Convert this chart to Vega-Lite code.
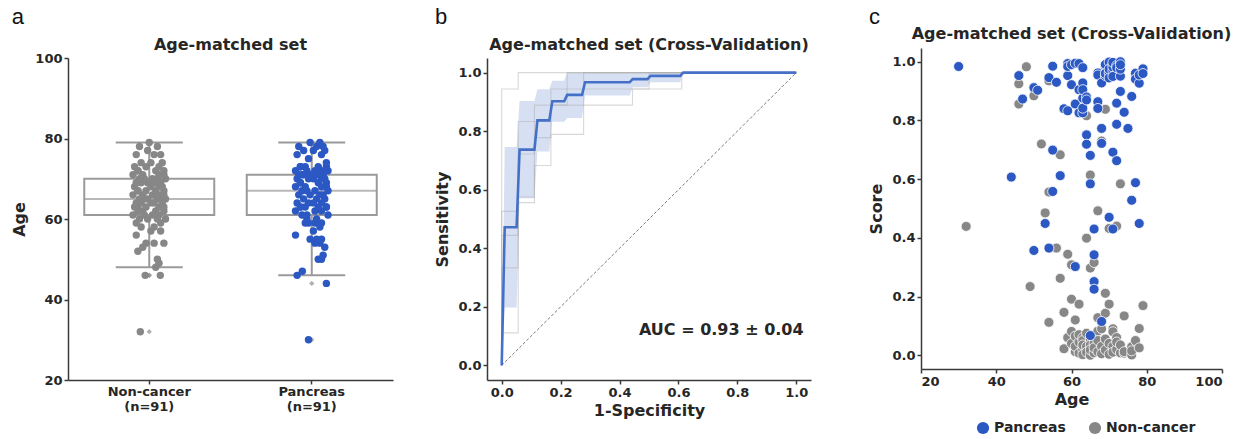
{
"$schema": "https://vega.github.io/schema/vega-lite/v6.json",
"padding": {"left": 11, "top": 6, "right": 5, "bottom": 3},
"config": {
  "view": {"stroke": null},
  "font": "DejaVu Sans",
  "axis": {"labelFont": "DejaVu Sans", "labelFontWeight": "bold", "labelFontSize": 13, "labelColor": "#262626", "titleFont": "DejaVu Sans", "titleFontWeight": "bold", "titleFontSize": 16, "titleColor": "#262626", "domainColor": "#3a3a3a", "domainWidth": 1.5, "tickColor": "#3a3a3a", "tickWidth": 1.5, "tickSize": 4, "labelPadding": 2, "grid": false, "titlePadding": 7},
  "axisX": {"titlePadding": 3},
  "title": {"font": "DejaVu Sans", "fontSize": 16, "fontWeight": "bold", "color": "#262626"},
  "legend": {"labelFont": "DejaVu Sans", "labelFontSize": 14, "labelFontWeight": "bold", "labelColor": "#262626"}
},
"datasets": {
  "pts": [
    {"g":"Non-cancer","age":32,"score":0.439,"j":-0.055},
    {"g":"Non-cancer","age":46,"score":0.925,"j":-0.025},
    {"g":"Non-cancer","age":46,"score":0.856,"j":0.068},
    {"g":"Non-cancer","age":48,"score":0.983,"j":0.04},
    {"g":"Non-cancer","age":49,"score":0.234,"j":0.06},
    {"g":"Non-cancer","age":50,"score":0.884,"j":0.05},
    {"g":"Non-cancer","age":52,"score":0.720,"j":-0.07},
    {"g":"Non-cancer","age":53,"score":0.485,"j":-0.04},
    {"g":"Non-cancer","age":54,"score":0.935,"j":0.09},
    {"g":"Non-cancer","age":54,"score":0.556,"j":-0.02},
    {"g":"Non-cancer","age":54,"score":0.112,"j":0.03},
    {"g":"Non-cancer","age":56,"score":0.365,"j":-0.08},
    {"g":"Non-cancer","age":57,"score":0.683,"j":0.01},
    {"g":"Non-cancer","age":57,"score":0.262,"j":0.07},
    {"g":"Non-cancer","age":58,"score":0.146,"j":-0.05},
    {"g":"Non-cancer","age":58,"score":0.022,"j":0.03},
    {"g":"Non-cancer","age":59,"score":0.344,"j":-0.08},
    {"g":"Non-cancer","age":59,"score":0.060,"j":0.07},
    {"g":"Non-cancer","age":60,"score":0.308,"j":-0.01},
    {"g":"Non-cancer","age":60,"score":0.191,"j":0.05},
    {"g":"Non-cancer","age":60,"score":0.081,"j":-0.06},
    {"g":"Non-cancer","age":60,"score":0.040,"j":0.1},
    {"g":"Non-cancer","age":61,"score":0.120,"j":-0.03},
    {"g":"Non-cancer","age":61,"score":0.012,"j":0.02},
    {"g":"Non-cancer","age":61,"score":0.065,"j":-0.1},
    {"g":"Non-cancer","age":61,"score":0.030,"j":0.06},
    {"g":"Non-cancer","age":62,"score":0.174,"j":-0.04},
    {"g":"Non-cancer","age":62,"score":0.007,"j":0.09},
    {"g":"Non-cancer","age":62,"score":0.045,"j":-0.07},
    {"g":"Non-cancer","age":62,"score":0.070,"j":0.04},
    {"g":"Non-cancer","age":63,"score":0.060,"j":-0.07},
    {"g":"Non-cancer","age":63,"score":0.020,"j":0.09},
    {"g":"Non-cancer","age":63,"score":0.002,"j":-0.02},
    {"g":"Non-cancer","age":63,"score":0.050,"j":0.06},
    {"g":"Non-cancer","age":63,"score":0.035,"j":-0.09},
    {"g":"Non-cancer","age":64,"score":0.816,"j":0.01},
    {"g":"Non-cancer","age":64,"score":0.399,"j":0.08},
    {"g":"Non-cancer","age":64,"score":0.075,"j":-0.05},
    {"g":"Non-cancer","age":64,"score":0.030,"j":0.03},
    {"g":"Non-cancer","age":64,"score":0.010,"j":-0.08},
    {"g":"Non-cancer","age":65,"score":0.614,"j":0.07},
    {"g":"Non-cancer","age":65,"score":0.297,"j":-0.01},
    {"g":"Non-cancer","age":65,"score":0.055,"j":0.05},
    {"g":"Non-cancer","age":65,"score":0.035,"j":-0.06},
    {"g":"Non-cancer","age":65,"score":0.000,"j":0.1},
    {"g":"Non-cancer","age":65,"score":0.018,"j":-0.03},
    {"g":"Non-cancer","age":66,"score":0.316,"j":0.02},
    {"g":"Non-cancer","age":66,"score":0.062,"j":-0.1},
    {"g":"Non-cancer","age":66,"score":0.040,"j":0.06},
    {"g":"Non-cancer","age":66,"score":0.008,"j":-0.04},
    {"g":"Non-cancer","age":66,"score":0.025,"j":0.09},
    {"g":"Non-cancer","age":67,"score":0.492,"j":-0.07},
    {"g":"Non-cancer","age":67,"score":0.128,"j":0.04},
    {"g":"Non-cancer","age":67,"score":0.082,"j":-0.07},
    {"g":"Non-cancer","age":67,"score":0.050,"j":0.09},
    {"g":"Non-cancer","age":67,"score":0.012,"j":-0.02},
    {"g":"Non-cancer","age":68,"score":0.730,"j":0.06},
    {"g":"Non-cancer","age":68,"score":0.090,"j":-0.09},
    {"g":"Non-cancer","age":68,"score":0.030,"j":0.01},
    {"g":"Non-cancer","age":68,"score":0.005,"j":0.08},
    {"g":"Non-cancer","age":69,"score":0.838,"j":-0.05},
    {"g":"Non-cancer","age":69,"score":0.211,"j":0.03},
    {"g":"Non-cancer","age":69,"score":0.143,"j":-0.08},
    {"g":"Non-cancer","age":69,"score":0.055,"j":0.07},
    {"g":"Non-cancer","age":69,"score":0.018,"j":-0.01},
    {"g":"Non-cancer","age":70,"score":0.432,"j":0.05},
    {"g":"Non-cancer","age":70,"score":0.174,"j":-0.06},
    {"g":"Non-cancer","age":70,"score":0.950,"j":0.1},
    {"g":"Non-cancer","age":70,"score":0.040,"j":-0.03},
    {"g":"Non-cancer","age":70,"score":0.003,"j":0.02},
    {"g":"Non-cancer","age":71,"score":0.090,"j":-0.1},
    {"g":"Non-cancer","age":71,"score":0.080,"j":0.06},
    {"g":"Non-cancer","age":71,"score":0.030,"j":-0.04},
    {"g":"Non-cancer","age":71,"score":0.010,"j":0.09},
    {"g":"Non-cancer","age":72,"score":0.440,"j":-0.07},
    {"g":"Non-cancer","age":72,"score":0.060,"j":0.04},
    {"g":"Non-cancer","age":72,"score":0.020,"j":-0.07},
    {"g":"Non-cancer","age":72,"score":0.045,"j":0.09},
    {"g":"Non-cancer","age":73,"score":0.584,"j":-0.02},
    {"g":"Non-cancer","age":73,"score":0.008,"j":0.06},
    {"g":"Non-cancer","age":73,"score":0.035,"j":-0.09},
    {"g":"Non-cancer","age":74,"score":0.134,"j":0.01},
    {"g":"Non-cancer","age":74,"score":0.007,"j":0.08},
    {"g":"Non-cancer","age":74,"score":0.012,"j":-0.05},
    {"g":"Non-cancer","age":76,"score":0.029,"j":0.03},
    {"g":"Non-cancer","age":76,"score":0.001,"j":-0.08},
    {"g":"Non-cancer","age":76,"score":0.015,"j":0.07},
    {"g":"Non-cancer","age":77,"score":0.050,"j":-0.01},
    {"g":"Non-cancer","age":78,"score":0.091,"j":0.05},
    {"g":"Non-cancer","age":78,"score":0.025,"j":-0.06},
    {"g":"Non-cancer","age":79,"score":0.169,"j":0.0},
    {"g":"Pancreas","age":30,"score":0.984,"j":-0.02},
    {"g":"Pancreas","age":44,"score":0.607,"j":0.09},
    {"g":"Pancreas","age":46,"score":0.953,"j":-0.09},
    {"g":"Pancreas","age":47,"score":0.873,"j":-0.058},
    {"g":"Pancreas","age":50,"score":0.912,"j":0.04},
    {"g":"Pancreas","age":50,"score":0.357,"j":0.06},
    {"g":"Pancreas","age":51,"score":0.903,"j":0.07},
    {"g":"Pancreas","age":53,"score":0.449,"j":0.08},
    {"g":"Pancreas","age":54,"score":0.946,"j":0.02},
    {"g":"Pancreas","age":54,"score":0.365,"j":0.05},
    {"g":"Pancreas","age":55,"score":0.985,"j":-0.01},
    {"g":"Pancreas","age":55,"score":0.699,"j":0.03},
    {"g":"Pancreas","age":55,"score":0.558,"j":0.06},
    {"g":"Pancreas","age":56,"score":0.930,"j":-0.1},
    {"g":"Pancreas","age":57,"score":0.612,"j":0.01},
    {"g":"Pancreas","age":58,"score":0.840,"j":0.05},
    {"g":"Pancreas","age":59,"score":0.833,"j":-0.04},
    {"g":"Pancreas","age":59,"score":0.994,"j":0.02},
    {"g":"Pancreas","age":59,"score":0.953,"j":0.06},
    {"g":"Pancreas","age":59,"score":0.984,"j":-0.02},
    {"g":"Pancreas","age":60,"score":0.922,"j":-0.03},
    {"g":"Pancreas","age":60,"score":0.990,"j":0.03},
    {"g":"Pancreas","age":61,"score":0.856,"j":-0.06},
    {"g":"Pancreas","age":61,"score":0.995,"j":0.1},
    {"g":"Pancreas","age":61,"score":0.302,"j":-0.03},
    {"g":"Pancreas","age":62,"score":0.994,"j":0.02},
    {"g":"Pancreas","age":62,"score":0.826,"j":-0.1},
    {"g":"Pancreas","age":62,"score":0.905,"j":0.06},
    {"g":"Pancreas","age":63,"score":0.980,"j":-0.04},
    {"g":"Pancreas","age":63,"score":0.826,"j":0.09},
    {"g":"Pancreas","age":63,"score":0.928,"j":-0.07},
    {"g":"Pancreas","age":63,"score":0.876,"j":0.04},
    {"g":"Pancreas","age":63,"score":0.905,"j":-0.07},
    {"g":"Pancreas","age":63,"score":0.842,"j":0.09},
    {"g":"Pancreas","age":64,"score":0.880,"j":-0.02},
    {"g":"Pancreas","age":64,"score":0.751,"j":0.06},
    {"g":"Pancreas","age":64,"score":0.719,"j":-0.09},
    {"g":"Pancreas","age":64,"score":0.870,"j":0.01},
    {"g":"Pancreas","age":65,"score":0.681,"j":0.08},
    {"g":"Pancreas","age":65,"score":0.584,"j":-0.05},
    {"g":"Pancreas","age":65,"score":0.067,"j":0.03},
    {"g":"Pancreas","age":66,"score":0.430,"j":-0.08},
    {"g":"Pancreas","age":66,"score":0.342,"j":0.07},
    {"g":"Pancreas","age":66,"score":0.251,"j":-0.01},
    {"g":"Pancreas","age":66,"score":0.225,"j":0.05},
    {"g":"Pancreas","age":67,"score":0.864,"j":-0.06},
    {"g":"Pancreas","age":67,"score":0.841,"j":0.1},
    {"g":"Pancreas","age":67,"score":0.962,"j":-0.03},
    {"g":"Pancreas","age":67,"score":0.955,"j":0.02},
    {"g":"Pancreas","age":68,"score":0.773,"j":-0.1},
    {"g":"Pancreas","age":68,"score":0.722,"j":0.06},
    {"g":"Pancreas","age":68,"score":0.115,"j":-0.04},
    {"g":"Pancreas","age":68,"score":0.928,"j":0.09},
    {"g":"Pancreas","age":69,"score":0.985,"j":-0.07},
    {"g":"Pancreas","age":69,"score":0.991,"j":0.04},
    {"g":"Pancreas","age":69,"score":0.953,"j":-0.07},
    {"g":"Pancreas","age":69,"score":0.960,"j":0.09},
    {"g":"Pancreas","age":70,"score":0.470,"j":-0.02},
    {"g":"Pancreas","age":70,"score":0.999,"j":0.06},
    {"g":"Pancreas","age":70,"score":0.962,"j":-0.09},
    {"g":"Pancreas","age":70,"score":0.945,"j":0.01},
    {"g":"Pancreas","age":70,"score":0.975,"j":0.08},
    {"g":"Pancreas","age":71,"score":0.692,"j":-0.05},
    {"g":"Pancreas","age":71,"score":0.430,"j":0.03},
    {"g":"Pancreas","age":71,"score":0.991,"j":-0.08},
    {"g":"Pancreas","age":71,"score":0.970,"j":0.07},
    {"g":"Pancreas","age":71,"score":0.982,"j":-0.01},
    {"g":"Pancreas","age":71,"score":0.950,"j":0.05},
    {"g":"Pancreas","age":71,"score":0.998,"j":-0.06},
    {"g":"Pancreas","age":72,"score":0.663,"j":0.1},
    {"g":"Pancreas","age":72,"score":0.787,"j":-0.03},
    {"g":"Pancreas","age":72,"score":0.859,"j":0.02},
    {"g":"Pancreas","age":72,"score":0.987,"j":-0.1},
    {"g":"Pancreas","age":72,"score":0.980,"j":0.06},
    {"g":"Pancreas","age":73,"score":0.899,"j":-0.04},
    {"g":"Pancreas","age":73,"score":1.000,"j":0.09},
    {"g":"Pancreas","age":73,"score":0.951,"j":-0.07},
    {"g":"Pancreas","age":73,"score":0.975,"j":0.04},
    {"g":"Pancreas","age":73,"score":0.990,"j":-0.07},
    {"g":"Pancreas","age":74,"score":0.828,"j":0.09},
    {"g":"Pancreas","age":75,"score":0.773,"j":-0.02},
    {"g":"Pancreas","age":76,"score":0.882,"j":0.06},
    {"g":"Pancreas","age":76,"score":0.528,"j":-0.09},
    {"g":"Pancreas","age":77,"score":0.961,"j":0.01},
    {"g":"Pancreas","age":77,"score":0.941,"j":0.08},
    {"g":"Pancreas","age":77,"score":0.588,"j":-0.05},
    {"g":"Pancreas","age":78,"score":0.927,"j":0.03},
    {"g":"Pancreas","age":78,"score":0.449,"j":-0.08},
    {"g":"Pancreas","age":78,"score":0.955,"j":0.07},
    {"g":"Pancreas","age":79,"score":0.976,"j":-0.01},
    {"g":"Pancreas","age":79,"score":0.960,"j":0.05}
  ],
  "roc": [
    {"fpr":0,"tpr":0,"lo":0,"hi":0},
    {"fpr":0.0101,"tpr":0.472,"lo":0.198,"hi":0.746},
    {"fpr":0.0505,"tpr":0.472,"lo":0.198,"hi":0.746},
    {"fpr":0.0606,"tpr":0.737,"lo":0.571,"hi":0.903},
    {"fpr":0.1111,"tpr":0.737,"lo":0.571,"hi":0.903},
    {"fpr":0.1212,"tpr":0.837,"lo":0.731,"hi":0.943},
    {"fpr":0.1616,"tpr":0.837,"lo":0.731,"hi":0.943},
    {"fpr":0.1717,"tpr":0.902,"lo":0.832,"hi":0.972},
    {"fpr":0.2121,"tpr":0.902,"lo":0.832,"hi":0.972},
    {"fpr":0.2222,"tpr":0.924,"lo":0.845,"hi":1},
    {"fpr":0.2727,"tpr":0.924,"lo":0.845,"hi":1},
    {"fpr":0.2828,"tpr":0.967,"lo":0.922,"hi":1},
    {"fpr":0.4343,"tpr":0.967,"lo":0.922,"hi":1},
    {"fpr":0.4444,"tpr":0.978,"lo":0.95,"hi":1},
    {"fpr":0.4949,"tpr":0.978,"lo":0.95,"hi":1},
    {"fpr":0.5051,"tpr":0.989,"lo":0.967,"hi":1},
    {"fpr":0.6061,"tpr":0.989,"lo":0.967,"hi":1},
    {"fpr":0.6162,"tpr":1,"lo":1,"hi":1},
    {"fpr":1,"tpr":1,"lo":1,"hi":1}
  ],
  "folds": [
    {"fold":1,"k":0,"fpr":0,"tpr":0},{"fold":1,"k":1,"fpr":0,"tpr":0.944},{"fold":1,"k":2,"fpr":0.056,"tpr":0.944},{"fold":1,"k":3,"fpr":0.056,"tpr":1},{"fold":1,"k":4,"fpr":1,"tpr":1},
    {"fold":2,"k":0,"fpr":0,"tpr":0},{"fold":2,"k":1,"fpr":0,"tpr":0.111},{"fold":2,"k":2,"fpr":0.056,"tpr":0.111},{"fold":2,"k":3,"fpr":0.056,"tpr":0.556},{"fold":2,"k":4,"fpr":0.111,"tpr":0.556},{"fold":2,"k":5,"fpr":0.111,"tpr":0.683},{"fold":2,"k":6,"fpr":0.167,"tpr":0.683},{"fold":2,"k":7,"fpr":0.167,"tpr":0.789},{"fold":2,"k":8,"fpr":0.278,"tpr":0.789},{"fold":2,"k":9,"fpr":0.278,"tpr":0.944},{"fold":2,"k":10,"fpr":0.611,"tpr":0.944},{"fold":2,"k":11,"fpr":0.611,"tpr":1},{"fold":2,"k":12,"fpr":1,"tpr":1},
    {"fold":3,"k":0,"fpr":0,"tpr":0},{"fold":3,"k":1,"fpr":0,"tpr":0.333},{"fold":3,"k":2,"fpr":0.056,"tpr":0.333},{"fold":3,"k":3,"fpr":0.056,"tpr":0.575},{"fold":3,"k":4,"fpr":0.111,"tpr":0.575},{"fold":3,"k":5,"fpr":0.111,"tpr":0.778},{"fold":3,"k":6,"fpr":0.167,"tpr":0.778},{"fold":3,"k":7,"fpr":0.167,"tpr":0.889},{"fold":3,"k":8,"fpr":0.444,"tpr":0.889},{"fold":3,"k":9,"fpr":0.444,"tpr":0.944},{"fold":3,"k":10,"fpr":0.5,"tpr":0.944},{"fold":3,"k":11,"fpr":0.5,"tpr":1},{"fold":3,"k":12,"fpr":1,"tpr":1},
    {"fold":4,"k":0,"fpr":0,"tpr":0},{"fold":4,"k":1,"fpr":0,"tpr":0.444},{"fold":4,"k":2,"fpr":0.056,"tpr":0.444},{"fold":4,"k":3,"fpr":0.056,"tpr":0.722},{"fold":4,"k":4,"fpr":0.111,"tpr":0.722},{"fold":4,"k":5,"fpr":0.111,"tpr":0.833},{"fold":4,"k":6,"fpr":0.167,"tpr":0.833},{"fold":4,"k":7,"fpr":0.167,"tpr":0.889},{"fold":4,"k":8,"fpr":0.222,"tpr":0.889},{"fold":4,"k":9,"fpr":0.222,"tpr":0.944},{"fold":4,"k":10,"fpr":0.278,"tpr":0.944},{"fold":4,"k":11,"fpr":0.278,"tpr":1},{"fold":4,"k":12,"fpr":1,"tpr":1},
    {"fold":5,"k":0,"fpr":0,"tpr":0},{"fold":5,"k":1,"fpr":0,"tpr":0.526},{"fold":5,"k":2,"fpr":0.056,"tpr":0.526},{"fold":5,"k":3,"fpr":0.056,"tpr":0.833},{"fold":5,"k":4,"fpr":0.111,"tpr":0.833},{"fold":5,"k":5,"fpr":0.111,"tpr":0.889},{"fold":5,"k":6,"fpr":0.167,"tpr":0.889},{"fold":5,"k":7,"fpr":0.167,"tpr":0.944},{"fold":5,"k":8,"fpr":0.222,"tpr":0.944},{"fold":5,"k":9,"fpr":0.222,"tpr":1},{"fold":5,"k":10,"fpr":1,"tpr":1}
  ]
},
"resolve": {"scale": {"color": "independent"}, "legend": {"color": "independent"}},
"align": "none",
"spacing": 57,
"hconcat": [
  {
    "spacing": 41,
    "align": "none",
    "resolve": {"scale": {"color": "independent"}, "legend": {"color": "independent"}},
    "hconcat": [
      {
        "title": {"text": "a", "anchor": "start", "frame": "bounds", "font": "Liberation Sans", "fontSize": 22, "fontWeight": "normal", "color": "#111111", "offset": -4},
        "spacing": 0,
        "vconcat": [
          {"width": 325, "height": 12, "data": {"values": []}, "mark": {"type": "point", "opacity": 0}},
          {
          "title": {"text": "Age-matched set", "offset": -1},
          "width": 325, "height": 322,
          "data": {"name": "pts"},
          "layer": [
            {
              "mark": {"type": "boxplot", "extent": 1.5, "size": 130,
                "box": {"fill": "white", "stroke": "#9a9a9a", "strokeWidth": 2},
                "median": {"color": "#9a9a9a", "thickness": 2},
                "rule": {"color": "#9a9a9a", "strokeWidth": 2},
                "ticks": {"color": "#9a9a9a", "size": 67, "thickness": 2},
                "outliers": {"shape": "diamond", "color": "#8e8e8e", "size": 28, "filled": true}},
              "encoding": {
                "x": {"field": "g", "type": "nominal", "sort": ["Non-cancer", "Pancreas"], "scale": {"paddingInner": 0, "paddingOuter": 0},
                  "axis": {"title": null, "labelAngle": 0, "labelExpr": "[datum.label, '(n=91)']", "labelLineHeight": 15, "labelPadding": 1}},
                "y": {"field": "age", "type": "quantitative", "scale": {"domain": [20, 100], "nice": false, "zero": false},
                  "axis": {"values": [20, 40, 60, 80, 100], "title": "Age"}}
              }
            },
            {
              "mark": {"type": "circle", "size": 55, "opacity": 1},
              "encoding": {
                "x": {"field": "g", "type": "nominal", "sort": ["Non-cancer", "Pancreas"]},
                "xOffset": {"field": "j", "type": "quantitative", "scale": {"domain": [-0.5, 0.5]}},
                "y": {"field": "age", "type": "quantitative"},
                "color": {"field": "g", "type": "nominal", "scale": {"domain": ["Pancreas", "Non-cancer"], "range": ["#2b58c3", "#878787"]}, "legend": null}
              }
            }
          ]
        }]
      },
      {
        "title": {"text": "b", "anchor": "start", "frame": "bounds", "font": "Liberation Sans", "fontSize": 22, "fontWeight": "normal", "color": "#111111", "offset": -4},
        "spacing": 0,
        "vconcat": [
          {"width": 324, "height": 12, "data": {"values": []}, "mark": {"type": "point", "opacity": 0}},
          {
          "title": {"text": "Age-matched set (Cross-Validation)", "offset": 5},
          "width": 324, "height": 322,
          "layer": [
            {
              "data": {"name": "roc"},
              "mark": {"type": "area", "color": "#4a72c6", "opacity": 0.22},
              "encoding": {
                "x": {"field": "fpr", "type": "quantitative", "scale": {"domain": [-0.05, 1.05], "nice": false, "zero": false},
                  "axis": {"values": [0, 0.2, 0.4, 0.6, 0.8, 1], "format": ".1f", "title": "1-Specificity"}},
                "y": {"field": "lo", "type": "quantitative", "scale": {"domain": [-0.05, 1.05], "nice": false, "zero": false},
                  "axis": {"values": [0, 0.2, 0.4, 0.6, 0.8, 1], "format": ".1f", "title": "Sensitivity"}},
                "y2": {"field": "hi"}
              }
            },
            {
              "data": {"name": "folds"},
              "mark": {"type": "line", "color": "#a8a8a8", "strokeWidth": 1.1, "opacity": 0.45},
              "encoding": {
                "x": {"field": "fpr", "type": "quantitative"},
                "y": {"field": "tpr", "type": "quantitative"},
                "detail": {"field": "fold", "type": "nominal"},
                "order": {"field": "k", "type": "quantitative"}
              }
            },
            {
              "data": {"values": [{}]},
              "mark": {"type": "rule", "color": "#777777", "strokeDash": [3, 2], "strokeWidth": 1},
              "encoding": {"x": {"datum": 0}, "y": {"datum": 0}, "x2": {"datum": 1}, "y2": {"datum": 1}}
            },
            {
              "data": {"name": "roc"},
              "mark": {"type": "line", "color": "#4470c8", "strokeWidth": 2.6},
              "encoding": {
                "x": {"field": "fpr", "type": "quantitative"},
                "y": {"field": "tpr", "type": "quantitative"}
              }
            },
            {
              "data": {"values": [{}]},
              "mark": {"type": "text", "text": "AUC = 0.93 ± 0.04", "align": "right", "baseline": "middle", "font": "DejaVu Sans", "fontSize": 16, "fontWeight": "bold", "color": "#262626"},
              "encoding": {"x": {"datum": 1.025}, "y": {"datum": 0.12}}
            }
          ]
        }]
      }
    ]
  },
  {
    "title": {"text": "c", "anchor": "start", "frame": "bounds", "font": "Liberation Sans", "fontSize": 22, "fontWeight": "normal", "color": "#111111", "offset": -4},
    "spacing": 0,
    "vconcat": [
      {"width": 301, "height": 1, "data": {"values": []}, "mark": {"type": "point", "opacity": 0}},
      {
      "title": {"text": "Age-matched set (Cross-Validation)", "offset": 6},
      "width": 301, "height": 321,
      "data": {"name": "pts"},
      "mark": {"type": "circle", "size": 100, "opacity": 1, "stroke": "white", "strokeWidth": 0.8},
      "encoding": {
        "x": {"field": "age", "type": "quantitative", "scale": {"domain": [20, 100], "nice": false, "zero": false},
          "axis": {"values": [20, 40, 60, 80, 100], "title": "Age"}},
        "y": {"field": "score", "type": "quantitative", "scale": {"domain": [-0.047, 1.047], "nice": false, "zero": false},
          "axis": {"values": [0, 0.2, 0.4, 0.6, 0.8, 1], "format": ".1f", "title": "Score"}},
        "color": {"field": "g", "type": "nominal", "scale": {"domain": ["Pancreas", "Non-cancer"], "range": ["#2b58c3", "#878787"]},
          "legend": {"title": null, "orient": "none", "legendX": 55, "legendY": 396, "direction": "horizontal", "symbolType": "circle", "symbolSize": 150, "symbolStrokeWidth": 0, "columnPadding": 22}}
      }
    }]
  }
]
}
